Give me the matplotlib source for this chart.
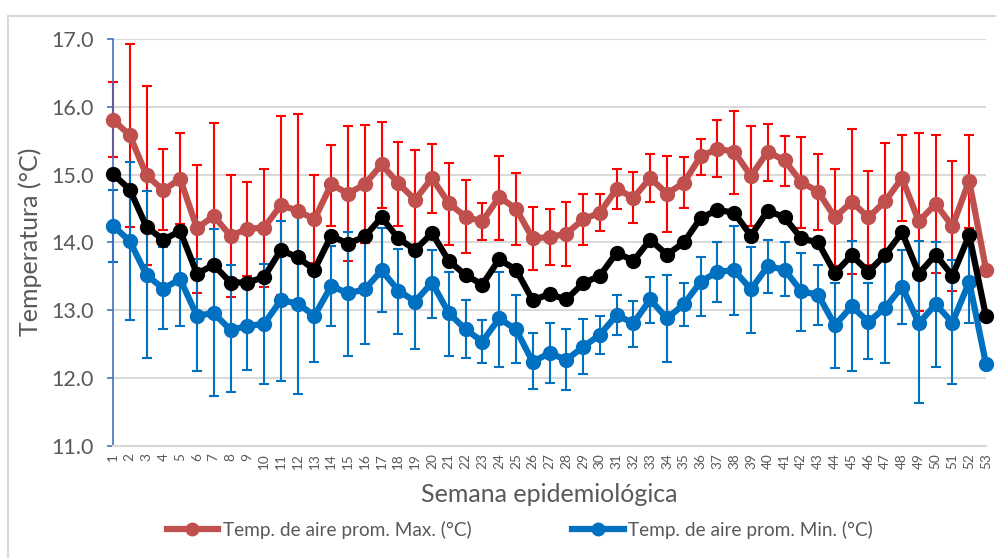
import numpy as np
import matplotlib
matplotlib.use("Agg")
import matplotlib.pyplot as plt
from matplotlib.patches import Rectangle

plt.rcParams['font.family'] = ['Lato', 'DejaVu Sans']

weeks = np.arange(1, 54)

# Temp. de aire prom. Max. (°C) with error bar ends
max_vals = [15.81, 15.58, 14.99, 14.77, 14.94, 14.21, 14.39, 14.10, 14.20, 14.22,
            14.55, 14.47, 14.34, 14.86, 14.72, 14.86, 15.15, 14.87, 14.63, 14.95,
            14.58, 14.38, 14.31, 14.67, 14.50, 14.06, 14.08, 14.13, 14.34, 14.44,
            14.79, 14.66, 14.95, 14.72, 14.88, 15.27, 15.38, 15.34, 14.98, 15.34,
            15.21, 14.89, 14.75, 14.37, 14.60, 14.37, 14.61, 14.95, 14.31, 14.57,
            14.24, 14.91, 13.60]
max_hi = [16.36, 16.93, 16.30, 15.38, 15.61, 15.14, 15.76, 15.00, 14.89, 15.09,
          15.87, 15.89, 15.00, 15.44, 15.72, 15.73, 15.77, 15.48, 15.37, 15.45,
          15.17, 14.92, 14.58, 15.28, 15.03, 14.52, 14.49, 14.59, 14.71, 14.72,
          15.08, 15.04, 15.30, 15.28, 15.26, 15.53, 15.81, 15.94, 15.72, 15.74,
          15.57, 15.55, 15.30, 15.09, 15.67, 15.06, 15.47, 15.59, 15.62, 15.58,
          15.20, 15.58, np.nan]
max_lo = [15.26, 14.23, 13.67, 14.19, 14.27, 13.26, 13.02, 13.20, 13.51, 13.35,
          13.23, 13.05, 13.70, 14.25, 13.73, 13.99, 14.51, 14.25, 13.88, 14.44,
          13.96, 13.85, 14.04, 14.04, 13.97, 13.60, 13.67, 13.65, 13.96, 14.17,
          14.49, 14.29, 14.59, 14.16, 14.51, 15.00, 14.97, 14.71, 14.24, 14.91,
          14.84, 14.21, 14.18, 13.65, 13.54, 13.67, 13.75, 14.31, 12.99, 13.55,
          13.29, 14.22, np.nan]

# average (black line, not in legend)
mean_vals = [15.01, 14.78, 14.23, 14.04, 14.17, 13.54, 13.67, 13.41, 13.41, 13.49,
             13.89, 13.78, 13.60, 14.10, 13.98, 14.09, 14.37, 14.06, 13.89, 14.14,
             13.73, 13.52, 13.38, 13.75, 13.60, 13.15, 13.24, 13.16, 13.40, 13.51,
             13.85, 13.73, 14.04, 13.82, 14.00, 14.36, 14.48, 14.44, 14.10, 14.47,
             14.37, 14.06, 14.00, 13.55, 13.81, 13.57, 13.82, 14.15, 13.54, 13.82,
             13.51, 14.11, 12.91]

# Temp. de aire prom. Min. (°C) with error bar ends
min_vals = [14.25, 14.02, 13.52, 13.32, 13.46, 12.92, 12.96, 12.71, 12.77, 12.80,
            13.15, 13.10, 12.92, 13.36, 13.25, 13.31, 13.59, 13.29, 13.13, 13.41,
            12.96, 12.72, 12.54, 12.88, 12.72, 12.24, 12.37, 12.27, 12.46, 12.64,
            12.93, 12.81, 13.16, 12.88, 13.09, 13.42, 13.57, 13.59, 13.31, 13.65,
            13.60, 13.28, 13.23, 12.78, 13.06, 12.83, 13.04, 13.35, 12.81, 13.09,
            12.82, 13.42, 12.21]
min_hi = [14.77, 15.19, 14.76, 13.94, 14.15, 13.75, 14.20, 13.67, 13.42, 13.68,
          14.32, 14.41, 13.60, 13.95, 14.16, 14.11, 14.21, 13.91, 13.83, 13.89,
          13.57, 13.15, 12.86, 13.56, 13.23, 12.66, 12.81, 12.73, 12.87, 12.91,
          13.22, 13.14, 13.49, 13.52, 13.41, 13.78, 14.01, 14.24, 13.94, 14.04,
          14.00, 13.84, 13.67, 13.41, 14.02, 13.40, 13.86, 13.89, 14.02, 14.00,
          13.74, 14.03, np.nan]
min_lo = [13.71, 12.86, 12.29, 12.72, 12.77, 12.11, 11.74, 11.79, 12.12, 11.92,
          11.96, 11.77, 12.24, 12.77, 12.33, 12.51, 12.97, 12.65, 12.43, 12.88,
          12.32, 12.29, 12.23, 12.17, 12.23, 11.84, 11.93, 11.82, 12.06, 12.35,
          12.64, 12.46, 12.81, 12.24, 12.77, 12.92, 13.13, 12.93, 12.67, 13.25,
          13.21, 12.69, 12.78, 12.15, 12.11, 12.28, 12.23, 12.80, 11.64, 12.17,
          11.92, 12.81, np.nan]

max_vals, max_hi, max_lo = np.array(max_vals), np.array(max_hi), np.array(max_lo)
min_vals, min_hi, min_lo = np.array(min_vals), np.array(min_hi), np.array(min_lo)

RED_LINE = '#C0504D'
BLUE_LINE = '#0070C0'
TXT = '#595959'
GRID = '#D9D9D9'

fig = plt.figure(figsize=(9.96, 5.58), dpi=100)
ax = fig.add_axes([113 / 996, 112 / 558, 873 / 996, 407 / 558])

# error bars first, lines on top
ax.errorbar(weeks, max_vals, yerr=[max_vals - max_lo, max_hi - max_vals], fmt='none',
            ecolor='#FF0000', elinewidth=1.5, capsize=3.8, capthick=1.5, zorder=2, clip_on=False)
ax.errorbar(weeks, min_vals, yerr=[min_vals - min_lo, min_hi - min_vals], fmt='none',
            ecolor=BLUE_LINE, elinewidth=1.5, capsize=3.8, capthick=1.5, zorder=2, clip_on=False)

ax.plot(weeks, max_vals, color=RED_LINE, lw=4.5, marker='o', ms=10, zorder=3, clip_on=False,
        label='Temp. de aire prom. Max. (°C)')
ax.plot(weeks, min_vals, color=BLUE_LINE, lw=4.5, marker='o', ms=10, zorder=3, clip_on=False,
        label='Temp. de aire prom. Min. (°C)')
ax.plot(weeks, mean_vals, color='black', lw=4.5, marker='o', ms=10, zorder=4, clip_on=False)

ax.set_xlim(1, 53)
ax.set_ylim(11, 17)
ax.set_yticks(np.arange(11, 17.5, 1))
ax.set_yticklabels([f'{v:.1f}' for v in np.arange(11, 17.5, 1)])
ax.set_xticks(weeks)
ax.set_xticklabels([str(w) for w in weeks], rotation=90)

ax.grid(axis='y', color=GRID, lw=1.5, zorder=0)
ax.set_axisbelow(True)
for s in ['top', 'right']:
    ax.spines[s].set_visible(False)
ax.spines['left'].set_color('#4472C4')
ax.spines['left'].set_linewidth(1.2)
ax.spines['bottom'].set_color(GRID)
ax.spines['bottom'].set_linewidth(1.5)
ax.tick_params(axis='y', direction='out', length=4, width=1.2, color='#4472C4',
               labelsize=15.5, labelcolor=TXT, pad=10)
ax.tick_params(axis='x', length=0, labelsize=9.8, labelcolor=TXT, pad=5)

fig.text(30 / 996, 1 - 242 / 558, 'Temperatura (°C)', rotation=90, ha='center', va='center',
         fontsize=18, color=TXT)
fig.text(549 / 996, 1 - 494 / 558, 'Semana epidemiológica', ha='center', va='center',
         fontsize=18, color=TXT)

fig.legend(loc='center', bbox_to_anchor=(520 / 996, 1 - 530 / 558), ncol=2, frameon=False,
           fontsize=13.7, labelcolor=TXT, handlelength=2.7, handletextpad=0.25,
           columnspacing=5.3, markerscale=0.9)

# chart border
fig.patches.append(Rectangle((8 / 996, -0.1), 1.2, (558 - 16) / 558 + 0.1,
                             transform=fig.transFigure, fill=False, ec=GRID, lw=1.5))

fig.savefig('out.png', dpi=100)
